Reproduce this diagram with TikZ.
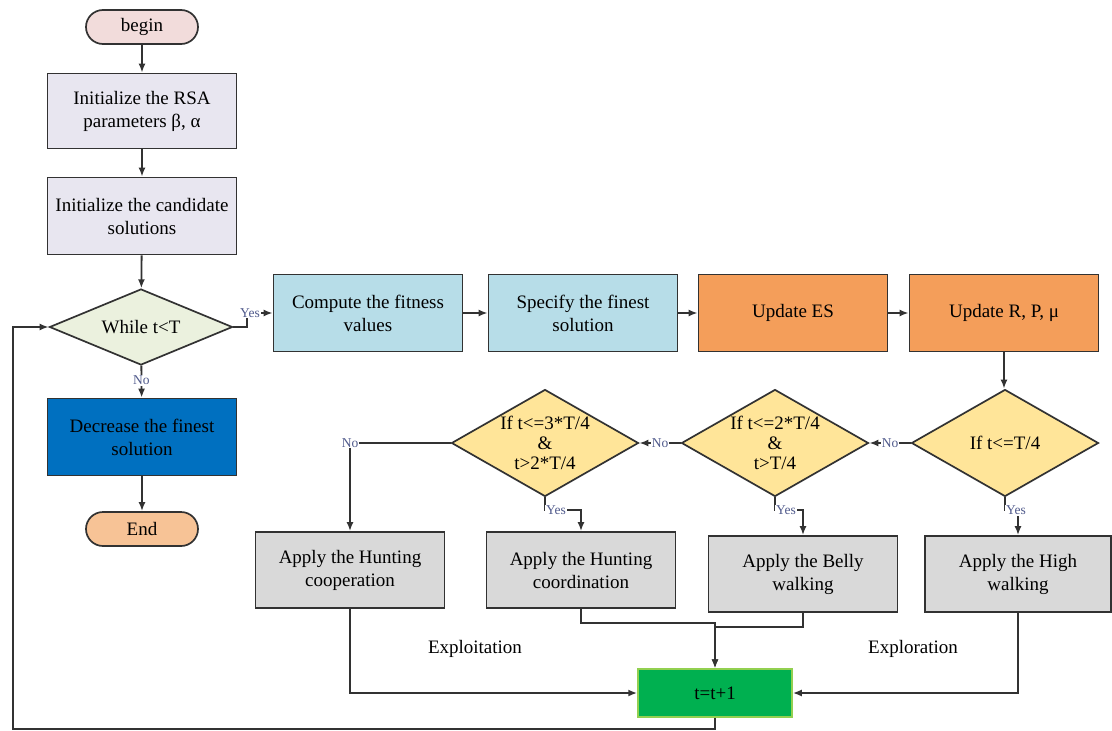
\documentclass[tikz,border=0pt]{standalone}
\usepackage{fontspec}
\setmainfont{Liberation Serif}
\usetikzlibrary{shapes.geometric,shapes.misc,arrows.meta,calc}
\definecolor{beginc}{RGB}{242,220,219}
\definecolor{endc}{RGB}{247,195,150}
\definecolor{initc}{RGB}{232,230,240}
\definecolor{whilec}{RGB}{235,241,222}
\definecolor{decc}{RGB}{0,112,192}
\definecolor{compc}{RGB}{183,221,232}
\definecolor{updc}{RGB}{244,158,90}
\definecolor{diac}{RGB}{255,229,153}
\definecolor{applyc}{RGB}{217,217,217}
\definecolor{greenc}{RGB}{0,176,80}
\definecolor{greenb}{RGB}{146,208,80}
\definecolor{linec}{RGB}{50,50,50}
\definecolor{lblc}{RGB}{80,90,140}
\begin{document}
\begin{tikzpicture}[x=1pt,y=-1pt,
  font=\fontsize{19}{23}\selectfont,
  box/.style={rectangle,draw=linec,line width=1.7pt,minimum width=189pt,minimum height=77pt,align=center,inner sep=2pt},
  term/.style={rounded rectangle,draw=linec,line width=1.7pt,minimum width=116pt,minimum height=34pt,inner sep=2pt},
  dia/.style={diamond,draw=linec,line width=1.7pt,inner sep=0pt,fill=diac,minimum width=187pt,minimum height=107pt},
  diatext/.style={align=center,font=\fontsize{19}{20}\selectfont},
  arr/.style={draw=linec,line width=1.8pt,-{Latex[length=9pt,width=7pt]}},
  lbl/.style={font=\fontsize{13.5}{15}\selectfont,text=lblc,fill=white,inner sep=1pt}
]
\useasboundingbox (0,0) rectangle (1112,731);

% left column
\node[term,fill=beginc] (begin) at (142,27) {begin};
\node[box,fill=initc,minimum height=75pt] (init1) at (142,111) {Initialize the RSA\\parameters β, α};
\node[box,fill=initc] (init2) at (142,216) {Initialize the candidate\\solutions};
\node[diamond,draw=linec,line width=1.7pt,inner sep=0pt,fill=whilec,minimum width=183pt,minimum height=76pt,
      label={[diatext]center:While t<T}] (while) at (141,327) {};
\node[box,fill=decc] (dec) at (142,437) {Decrease the finest\\solution};
\node[term,fill=endc] (end) at (142,529) {End};

% top row
\node[box,fill=compc] (comp) at (368,313) {Compute the fitness\\values};
\node[box,fill=compc] (spec) at (583,313) {Specify the finest\\solution};
\node[box,fill=updc] (ues) at (793,313) {Update ES};
\node[box,fill=updc] (urp) at (1004,313) {Update R, P, μ};

% diamonds
\node[dia,label={[diatext]center:If t<=T/4}] (d3) at (1005,443) {};
\node[dia,label={[diatext]center:If t<=2*T/4\\\&\\t>T/4}] (d2) at (775,443) {};
\node[dia,label={[diatext]center:If t<=3*T/4\\\&\\t>2*T/4}] (d1) at (545,443) {};

% apply boxes
\node[box,fill=applyc,minimum height=76pt] (coop) at (350,570) {Apply the Hunting\\cooperation};
\node[box,fill=applyc,minimum height=76pt] (coord) at (581,570) {Apply the Hunting\\coordination};
\node[box,fill=applyc,minimum height=76pt] (belly) at (803,574) {Apply the Belly\\walking};
\node[box,fill=applyc,minimum height=76pt,minimum width=186pt] (high) at (1018,574) {Apply the High\\walking};

% t=t+1
\node[rectangle,draw=greenb,line width=1.5pt,fill=greenc,minimum width=154pt,minimum height=48pt] (tinc) at (715,693) {t=t+1};

\node (exploit) at (475,649) {Exploitation};
\node (explore) at (913,649) {Exploration};

% connectors left column
\draw[arr] (begin) -- (init1);
\draw[arr] (init1) -- (init2);
\draw[arr] (init2) -- (while);
\draw[arr] (while) -- node[lbl,pos=0.45]{No} (dec);
\draw[arr] (dec) -- (end);

% yes to compute
\draw[arr] (while.east) -- ++(14,0) coordinate (wy) |- (comp.west);
\node[lbl] at (250,313) {Yes};

% top row
\draw[arr] (comp) -- (spec);
\draw[arr] (spec) -- (ues);
\draw[arr] (ues) -- (urp);
\draw[arr] (urp.south) -- (urp.south |- d3.north);

% No chain
\draw[arr] (d3.west) -- node[lbl]{No} (d2.east);
\draw[arr] (d2.west) -- node[lbl]{No} (d1.east);
\draw[arr] (d1.west) -| node[lbl,pos=0.5]{No} (coop.north);

% Yes branches
\draw[arr] (d1.south) -- ++(0,13) coordinate (y1) -| (coord.north);
\node[lbl,anchor=west] at (y1) {Yes};
\draw[arr] (d2.south) -- ++(0,13) coordinate (y2) -| (belly.north);
\node[lbl,anchor=west] at (y2) {Yes};
\draw[arr] (d3.south) -- ++(0,13) coordinate (y3) -| (high.north);
\node[lbl,anchor=west] at (y3) {Yes};

% to t=t+1
\draw[arr] (coop.south) |- (tinc.west);
\draw[arr] (coord.south) -- ++(0,14) -| (tinc.north);
\draw[arr] (belly.south) -- ++(0,14) -| (tinc.north);
\draw[arr] (high.south) |- (tinc.east);

% loop back
\coordinate (lp) at (13,729);
\draw[arr] (tinc.south) |- (lp) |- (while.west);
\end{tikzpicture}
\end{document}
